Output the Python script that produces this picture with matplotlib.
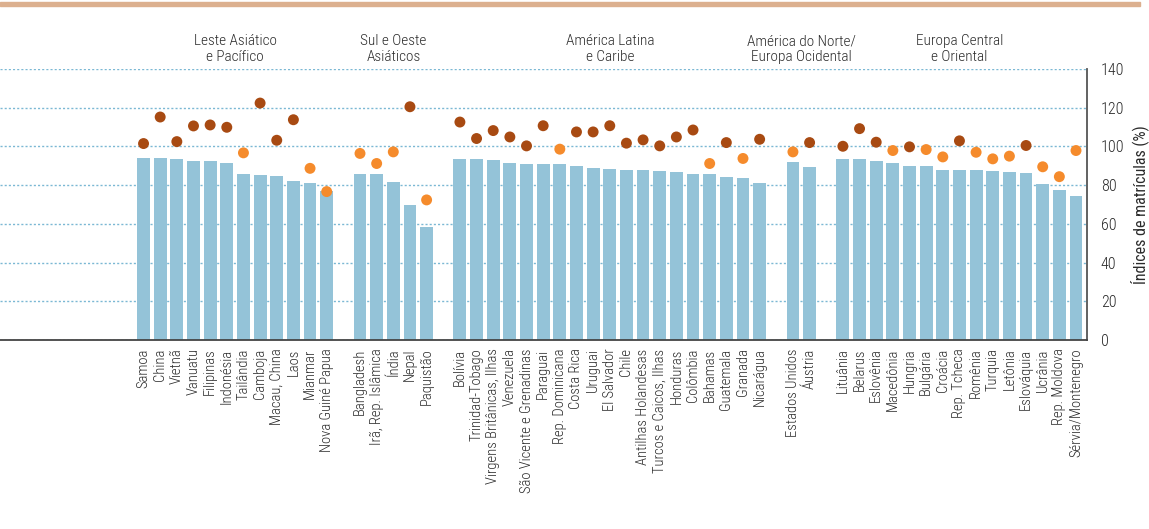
import matplotlib
matplotlib.use('Agg')
import matplotlib.pyplot as plt
from matplotlib.patches import Rectangle

plt.rcParams['font.family'] = ['Roboto Condensed', 'DejaVu Sans']
plt.rcParams['font.weight'] = 'light'

# grupos de países
groups = ['Leste Asiático\ne Pacífico', 'Sul e Oeste\nAsiáticos', 'América Latina\ne Caribe',
          'América do Norte/\nEuropa Ocidental', 'Europa Central\ne Oriental']

countries = [
    ['Samoa', 'China', 'Vietnã', 'Vanuatu', 'Filipinas', 'Indonésia', 'Tailândia', 'Camboja',
     'Macau, China', 'Laos', 'Mianmar', 'Nova Guiné Papua'],
    ['Bangladesh', 'Irã, Rep. Islâmica', 'Índia', 'Nepal', 'Paquistão'],
    ['Bolívia', 'Trinidad-Tobago', 'Virgens Britânicas, Ilhas', 'Venezuela',
     'São Vicente e Grenadinas', 'Paraguai', 'Rep. Dominicana', 'Costa Rica', 'Uruguai',
     'El Salvador', 'Chile', 'Antilhas Holandesas', 'Turcos e Caicos, Ilhas', 'Honduras',
     'Colômbia', 'Bahamas', 'Guatemala', 'Granada', 'Nicarágua'],
    ['Estados Unidos', 'Áustria'],
    ['Lituânia', 'Belarus', 'Eslovênia', 'Macedônia', 'Hungria', 'Bulgária', 'Croácia',
     'Rep. Tcheca', 'Romênia', 'Turquia', 'Letônia', 'Eslováquia', 'Ucrânia', 'Rep. Moldova',
     'Sérvia/Montenegro'],
]

# barras (taxa líquida) e pontos (taxa bruta)
bars = [
    [94.1, 94.1, 93.6, 92.4, 92.4, 91.4, 85.7, 85.2, 84.7, 82.1, 81.1, 77.0],
    [85.7, 85.7, 81.6, 69.8, 58.5],
    [93.6, 93.6, 93.1, 91.4, 90.9, 90.9, 90.9, 89.9, 88.8, 88.3, 87.8, 87.8, 87.3, 86.8,
     85.7, 85.7, 84.2, 83.7, 81.1],
    [91.9, 89.3],
    [93.4, 93.4, 92.4, 91.4, 89.9, 89.9, 87.8, 87.8, 87.8, 87.3, 86.8, 86.3, 80.6, 77.5, 74.4],
]
dots = [
    [101.5, 115.2, 102.5, 110.6, 111.1, 109.9, 96.7, 122.4, 103.2, 113.8, 88.7, 76.7],
    [96.4, 91.2, 97.2, 120.5, 72.4],
    [112.6, 104.1, 108.2, 104.9, 100.3, 110.7, 98.6, 107.5, 107.5, 110.7, 101.7, 103.4,
     100.3, 104.9, 108.5, 91.2, 102.0, 93.8, 103.7],
    [97.2, 102.0],
    [100.1, 109.2, 102.2, 97.9, 99.8, 98.4, 94.6, 102.9, 97.0, 93.6, 95.0, 100.5, 89.5,
     84.4, 97.9],
]
# 1 = ponto escuro, 0 = ponto laranja
dark = [
    [1, 1, 1, 1, 1, 1, 0, 1, 1, 1, 0, 0],
    [0, 0, 0, 1, 0],
    [1, 1, 1, 1, 1, 1, 0, 1, 1, 1, 1, 1, 1, 1, 1, 0, 1, 0, 1],
    [0, 1],
    [1, 1, 1, 0, 1, 0, 0, 1, 0, 0, 0, 1, 0, 0, 0],
]

bar_color = '#94c3d8'
dark_color = '#a84a12'
orange_color = '#f58b2c'
txt = '#2a2a2a'

fig = plt.figure(figsize=(11.49, 5.29), dpi=100)
ax = fig.add_axes([0, 0.357, 1087 / 1149, 0.8696 - 0.357])

xs, labels, centers = [], [], []
pos = 0
for g in range(len(groups)):
    gx = []
    for i in range(len(countries[g])):
        gx.append(pos)
        pos += 1
    pos += 1
    xs.append(gx)
    labels += countries[g]
    centers.append((gx[0] + gx[-1]) / 2)

for g in range(len(groups)):
    ax.bar(xs[g], bars[g], width=0.77, color=bar_color, zorder=2)
    cols = [dark_color if d else orange_color for d in dark[g]]
    ax.scatter(xs[g], dots[g], s=62, c=cols, zorder=3, linewidths=0)
    ax.text(centers[g], 150.3, groups[g], ha='center', va='center', fontsize=11,
            color=txt, linespacing=1.1)

allx = [x for gx in xs for x in gx]
ax.set_xticks(allx)
ax.set_xticklabels(labels, rotation=90, fontsize=10.5, color=txt, va='top')
ax.tick_params(axis='x', length=0, pad=6)

ax.set_xlim(-8.62, 56.66)
ax.set_ylim(0, 140)
ax.set_yticks(range(0, 141, 20))
ax.yaxis.tick_right()
ax.yaxis.set_label_position('right')
ax.tick_params(axis='y', length=0, pad=10, labelsize=11.5, labelcolor=txt)
ax.set_ylabel('Índices de matrículas (%)', fontsize=11.5, color=txt, labelpad=4)

ax.grid(axis='y', color='#7bb8d4', linestyle=(0, (1.5, 1.5)), linewidth=1, zorder=0)
ax.grid(axis='x', visible=False)
for s in ['top', 'left']:
    ax.spines[s].set_visible(False)
ax.spines['right'].set_color('#555555')
ax.spines['bottom'].set_color('#444444')
ax.spines['right'].set_linewidth(1.3)
ax.spines['bottom'].set_linewidth(1.3)

# faixa no topo
fig.patches.append(Rectangle((0, 1 - 6 / 529), 1140 / 1149, 4 / 529, transform=fig.transFigure,
                             color='#dcb08f', zorder=0))

fig.savefig('out.png', dpi=100)
